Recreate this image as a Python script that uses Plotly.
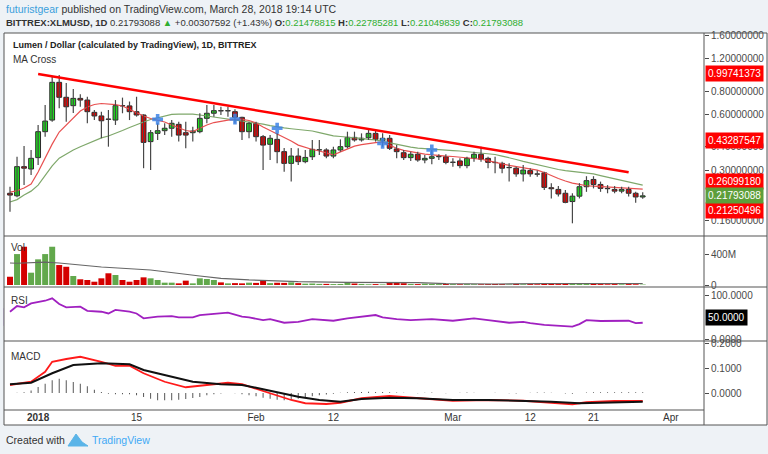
import plotly.graph_objects as go
import pandas as pd
import math

# ---------------- data ----------------
dates = pd.date_range("2017-12-28", periods=91, freq="D")

opens = [0.225,0.218,0.313,0.304,0.350,0.483,0.558,0.891,0.740,0.667,0.730,0.715,0.614,0.587,0.565,0.558,0.667,0.665,0.619,0.594,
         0.427,0.473,0.489,0.504,0.529,0.477,0.477,0.483,0.570,0.607,0.627,0.625,0.619,0.577,0.483,0.536,0.454,0.413,0.439,0.377,
         0.326,0.357,0.333,0.354,0.385,0.385,0.357,0.385,0.401,0.450,0.436,0.448,0.473,0.432,0.445,0.390,0.372,0.350,0.365,0.340,
         0.347,0.354,0.354,0.330,0.336,0.317,0.347,0.365,0.347,0.330,0.326,0.309,0.307,0.286,0.298,0.286,0.290,0.241,0.236,0.225,
         0.203,0.217,0.244,0.267,0.251,0.239,0.236,0.231,0.236,0.225,0.21478815]
highs = [0.244,0.354,0.404,0.385,0.525,0.672,0.955,0.976,0.883,0.820,0.768,0.745,0.632,0.619,0.632,0.715,0.737,0.702,0.745,0.600,
         0.493,0.536,0.536,0.558,0.547,0.547,0.513,0.607,0.672,0.672,0.658,0.658,0.637,0.582,0.547,0.547,0.463,0.463,0.475,0.394,
         0.394,0.393,0.385,0.436,0.436,0.393,0.401,0.439,0.483,0.483,0.473,0.493,0.493,0.473,0.463,0.409,0.385,0.377,0.377,0.362,
         0.385,0.365,0.365,0.347,0.347,0.354,0.377,0.401,0.354,0.354,0.333,0.326,0.313,0.319,0.307,0.298,0.294,0.255,0.246,0.234,
         0.225,0.255,0.278,0.278,0.260,0.249,0.246,0.244,0.244,0.229,0.22785281]
lows = [0.179,0.214,0.249,0.282,0.319,0.454,0.547,0.645,0.547,0.609,0.658,0.536,0.558,0.445,0.401,0.525,0.607,0.558,0.582,0.307,
        0.300,0.436,0.463,0.454,0.427,0.393,0.427,0.473,0.536,0.582,0.594,0.582,0.536,0.436,0.445,0.427,0.300,0.340,0.326,0.294,
        0.260,0.319,0.326,0.340,0.362,0.347,0.347,0.377,0.393,0.427,0.427,0.436,0.427,0.401,0.385,0.347,0.340,0.336,0.333,0.326,
        0.322,0.340,0.322,0.313,0.307,0.307,0.333,0.333,0.307,0.288,0.288,0.260,0.276,0.260,0.276,0.276,0.234,0.211,0.216,0.199,
        0.155,0.211,0.229,0.239,0.229,0.225,0.225,0.225,0.216,0.200,0.21049839]
closes = [0.220,0.313,0.307,0.347,0.483,0.551,0.891,0.740,0.658,0.730,0.715,0.619,0.587,0.553,0.563,0.667,0.665,0.619,0.594,0.423,
          0.477,0.489,0.504,0.536,0.463,0.463,0.487,0.570,0.607,0.627,0.625,0.627,0.577,0.483,0.536,0.454,0.409,0.445,0.377,0.326,
          0.357,0.333,0.351,0.388,0.386,0.357,0.385,0.401,0.450,0.436,0.445,0.473,0.439,0.445,0.393,0.377,0.350,0.365,0.340,0.347,
          0.354,0.355,0.330,0.331,0.317,0.347,0.365,0.343,0.330,0.329,0.307,0.310,0.286,0.300,0.286,0.285,0.242,0.238,0.223,0.201,
          0.217,0.244,0.263,0.251,0.239,0.238,0.231,0.236,0.225,0.2149,0.21793088]

ma_fast = [0.228,0.232,0.240,0.252,0.293,0.348,0.414,0.481,0.525,0.579,0.624,0.656,0.677,0.685,0.681,0.675,0.664,0.636,0.609,0.587,
           0.569,0.558,0.545,0.525,0.509,0.490,0.484,0.504,0.525,0.541,0.551,0.558,0.563,0.562,0.555,0.538,0.512,0.490,0.473,0.452,
           0.430,0.409,0.397,0.387,0.380,0.371,0.362,0.376,0.390,0.404,0.411,0.418,0.422,0.425,0.409,0.393,0.383,0.376,0.371,0.366,
           0.362,0.359,0.357,0.355,0.352,0.350,0.348,0.343,0.337,0.329,0.324,0.318,0.313,0.308,0.304,0.300,0.291,0.280,0.270,0.262,
           0.255,0.251,0.247,0.246,0.245,0.244,0.243,0.242,0.240,0.239,0.237]
ma_slow = [0.202,0.208,0.220,0.231,0.249,0.282,0.316,0.348,0.368,0.385,0.401,0.417,0.433,0.447,0.458,0.472,0.490,0.509,0.528,0.545,
           0.562,0.572,0.587,0.598,0.601,0.603,0.601,0.594,0.587,0.579,0.572,0.566,0.558,0.553,0.548,0.541,0.531,0.521,0.512,0.506,
           0.501,0.497,0.493,0.487,0.477,0.466,0.459,0.455,0.452,0.449,0.445,0.439,0.436,0.428,0.420,0.411,0.404,0.399,0.394,0.391,
           0.388,0.386,0.385,0.382,0.380,0.377,0.374,0.371,0.368,0.364,0.357,0.348,0.342,0.334,0.327,0.319,0.314,0.308,0.302,0.298,
           0.295,0.293,0.289,0.286,0.280,0.275,0.270,0.265,0.260,0.254,0.249]

cross_idx = [21, 32, 38, 53, 60]
cross_val = [0.563, 0.565, 0.504, 0.418, 0.385]

trend_dates = ["2018-01-01", "2018-03-26"]
trend_vals = [0.988, 0.292]

levels_red = [0.99741373, 0.43287547, 0.26099180, 0.21250496]
last_price = 0.21793088

volume_m = [110,412,510,164,342,412,510,266,243,120,76,67,44,89,156,133,67,44,67,102,
            89,67,31,31,22,58,22,89,80,67,35,22,25,22,31,28,60,25,30,28,
            35,25,18,20,15,15,12,14,30,20,14,10,12,8,30,28,24,14,12,18,
            14,12,14,12,10,12,10,10,12,14,12,8,14,10,12,10,14,16,12,18,
            20,16,18,14,12,10,12,10,12,10,6]
vol_ma_idx = [0, 1, 5, 7, 13, 20, 27, 30, 34, 41, 48, 58, 62, 69, 76, 90]
vol_ma_m = [293, 290, 305, 293, 240, 200, 120, 89, 67, 44, 36, 31, 18, 13, 20, 20]

rsi_idx = [0,1,2,3,5,6,7,8,10,11,13,14,15,17,18,19,21,23,24,26,27,29,31,33,34,36,37,39,41,43,46,48,50,52,53,55,57,60,63,66,68,71,73,74,76,78,80,81,82,84,87,88,89,90]
rsi_val = [62,75,72,81,87,92.5,79.5,72,73.5,64,62,58,66,62,58,47,51,52,49,49,54.5,58,60,51,49,43,45,37,39,45,41.5,47,51,54.5,49,45,43,45,41.5,47,43,37,39,36,32,29.5,28,34,43,41,41,41.5,36,37]

sig_idx = [0,3,6,9,13,17,19,23,26,30,33,35,38,41,44,47,50,54,58,63,68,73,77,81,86,90]
sig_val = [0.035,0.041,0.079,0.112,0.119,0.115,0.092,0.065,0.045,0.035,0.032,0.021,0.003,-0.015,-0.028,-0.035,-0.024,-0.019,-0.021,-0.028,-0.028,-0.031,-0.035,-0.041,-0.039,-0.035]
macd_idx = [0,3,5,6,8,10,13,15,17,19,22,25,28,31,33,37,40,42,45,47,50,54,58,63,68,73,77,80,82,86,90]
macd_val = [0.032,0.045,0.085,0.125,0.136,0.145,0.125,0.109,0.109,0.079,0.045,0.023,0.032,0.041,0.035,-0.001,-0.028,-0.041,-0.044,-0.039,-0.021,-0.012,-0.021,-0.031,-0.028,-0.031,-0.039,-0.045,-0.037,-0.032,-0.032]
hist_val = [0.0,0.001,0.003,0.01,0.024,0.037,0.051,0.057,0.051,0.044,0.037,0.027,0.013,0.004,-0.003,-0.005,-0.005,-0.005,-0.009,-0.016,
            -0.023,-0.029,-0.029,-0.029,-0.027,-0.024,-0.02,-0.016,-0.009,-0.005,-0.002,0.0,-0.001,-0.005,-0.009,-0.013,-0.019,-0.023,-0.027,-0.029,
            -0.027,-0.023,-0.019,-0.013,-0.009,-0.006,-0.003,0.001,0.003,0.004,0.004,0.005,0.004,0.004,0.003,0.002,0.001,0.0,-0.001,0.001,
            0.002,0.0,-0.001,0.0,0.001,0.002,0.001,0.0,0.0,0.001,0.0,-0.001,-0.002,0.0,0.001,0.002,0.002,0.001,0.0,-0.002,
            -0.003,0.0,0.002,0.003,0.003,0.003,0.003,0.003,0.003,0.003,0.003]

xtick_dates = ["2018-01-01","2018-01-15","2018-02-01","2018-02-12","2018-03-01","2018-03-12","2018-03-21","2018-04-01"]
xtick_text = ["<b>2018</b>","15","Feb","12","Mar","12","21","Apr"]

# ---------------- layout helpers ----------------
W, H = 768, 454
PL, PR, PT, PB = 4, 704, 33, 410   # plot area in px
DAY_MS = 86400000

def px(xp):
    return (xp - PL) / (PR - PL)

def py(yp):
    return (PB - yp) / (PB - PT)

def d(i):
    return dates[i]

GREEN = "#1fe01f"
RED = "#e60000"
AX = "#4a4a4a"
NUMFONT = "Liberation Sans, Arial, sans-serif"
TXTFONT = "Liberation Sans, Arial, sans-serif"

fig = go.Figure()

# level lines
shapes = []
for lv in levels_red:
    shapes.append(dict(type="line", xref="paper", yref="y", x0=0, x1=1, y0=lv, y1=lv,
                       line=dict(color="rgba(255,80,80,0.25)", width=2), layer="below"))
shapes.append(dict(type="line", xref="paper", yref="y", x0=0, x1=1, y0=last_price, y1=last_price,
                   line=dict(color="#4caf50", width=1, dash="dot"), layer="below"))

fig.add_trace(go.Scatter(x=dates, y=ma_slow, mode="lines", line=dict(color="#7fa86b", width=1.2),
                         hoverinfo="skip", showlegend=False))
fig.add_trace(go.Scatter(x=dates, y=ma_fast, mode="lines", line=dict(color="#e85050", width=1.2),
                         hoverinfo="skip", showlegend=False))

# candle wicks
wx, wy = [], []
for i in range(len(dates)):
    wx += [dates[i], dates[i], None]
    wy += [lows[i], highs[i], None]
fig.add_trace(go.Scatter(x=wx, y=wy, mode="lines", line=dict(color="#484848", width=1.2),
                         hoverinfo="skip", showlegend=False))
# candle bodies
body_base = [min(o, c) for o, c in zip(opens, closes)]
body_len = [abs(c - o) for o, c in zip(opens, closes)]
body_col = [GREEN if c >= o else RED for o, c in zip(opens, closes)]
fig.add_trace(go.Bar(x=dates, y=body_len, base=body_base, width=0.68 * DAY_MS,
                     marker=dict(color=body_col, line=dict(color="#2a2a2a", width=1)),
                     hoverinfo="skip", showlegend=False))

fig.add_trace(go.Scatter(x=[d(i) for i in cross_idx], y=cross_val, mode="markers",
                         marker=dict(symbol="cross", size=9, color="rgba(60,130,230,0.85)"),
                         showlegend=False, hoverinfo="skip"))

fig.add_trace(go.Scatter(x=trend_dates, y=trend_vals, mode="lines", line=dict(color="#ff0000", width=2.5),
                         showlegend=False, hoverinfo="skip"))

# volume
vol_colors = ["#d40000" if c < o else "#62a84c" for o, c in zip(opens, closes)]
fig.add_trace(go.Bar(x=dates, y=[v * 1e6 for v in volume_m], marker=dict(color=vol_colors, line=dict(width=0)),
                     width=0.85 * DAY_MS, yaxis="y2", showlegend=False, hoverinfo="skip"))
fig.add_trace(go.Scatter(x=[d(i) for i in vol_ma_idx], y=[v * 1e6 for v in vol_ma_m], mode="lines",
                         line=dict(color="#666666", width=1.2), yaxis="y2", showlegend=False, hoverinfo="skip"))

# RSI
shapes.append(dict(type="rect", xref="paper", yref="y3", x0=0, x1=1, y0=30, y1=70,
                   fillcolor="rgba(170,110,220,0.15)", line=dict(color="rgba(170,110,220,0.5)", width=1), layer="below"))
shapes.append(dict(type="line", xref="paper", yref="y3", x0=0, x1=1, y0=50, y1=50,
                   line=dict(color="#b0a0c0", width=1, dash="dash"), layer="below"))
fig.add_trace(go.Scatter(x=[d(i) for i in rsi_idx], y=rsi_val, mode="lines",
                         line=dict(color="#a020c0", width=1.8), yaxis="y3", showlegend=False, hoverinfo="skip"))

# MACD
fig.add_trace(go.Bar(x=dates, y=hist_val, marker=dict(color="#555555", line=dict(width=0)),
                     width=0.14 * DAY_MS, base=0, yaxis="y4", showlegend=False, hoverinfo="skip"))
fig.add_trace(go.Scatter(x=[d(i) for i in macd_idx], y=macd_val, mode="lines",
                         line=dict(color="#ff1a1a", width=1.8), yaxis="y4", showlegend=False, hoverinfo="skip"))
fig.add_trace(go.Scatter(x=[d(i) for i in sig_idx], y=sig_val, mode="lines",
                         line=dict(color="#111111", width=2), yaxis="y4", showlegend=False, hoverinfo="skip"))

# frame and separators
frame_col = "#555555"
shapes.append(dict(type="rect", xref="paper", yref="paper", x0=px(4), x1=px(767), y0=py(425), y1=py(33),
                   line=dict(color=frame_col, width=1), fillcolor="rgba(0,0,0,0)", layer="above"))
for ysep in [236, 287, 341, 410]:
    shapes.append(dict(type="line", xref="paper", yref="paper", x0=px(4), x1=px(767) if ysep != 410 else 1,
                       y0=py(ysep), y1=py(ysep), line=dict(color=frame_col, width=1.2), layer="above"))
shapes.append(dict(type="line", xref="paper", yref="paper", x0=1, x1=1, y0=py(425), y1=py(33),
                   line=dict(color=frame_col, width=1), layer="above"))
# white chart background
shapes.append(dict(type="rect", xref="paper", yref="paper", x0=px(4), x1=px(767), y0=py(425), y1=py(33),
                   fillcolor="white", line=dict(width=0), layer="below"))
# TradingView logo (simple mark)
shapes.append(dict(type="path", xref="paper", yref="paper",
                   path="M {a},{b} L {c},{d} L {e},{f} L {g},{h} Z".format(
                       a=px(68), b=py(446), c=px(76), d=py(434), e=px(82), f=py(442), g=px(88), h=py(446)),
                   fillcolor="#5ab4e8", line=dict(color="#5ab4e8", width=1)))

fig.update_layout(shapes=shapes)

tickfont = dict(family=NUMFONT, size=10, color=AX)
log_lo = math.log10(0.1324)
log_hi = math.log10(1.643)
main_ticks = [0.16, 0.3, 0.4, 0.6, 0.8, 1.2, 1.6]

fig.update_layout(
    width=W, height=H,
    margin=dict(l=PL, r=W - PR, t=PT, b=H - PB),
    paper_bgcolor="#eef2f6",
    plot_bgcolor="white",
    barmode="overlay",
    xaxis=dict(domain=[0, 1], anchor="y4", type="date",
               range=["2017-12-27 03:30", "2018-04-05 17:15"],
               tickvals=xtick_dates, ticktext=xtick_text, ticks="", showgrid=False, zeroline=False,
               showline=False, tickfont=dict(family=NUMFONT, size=10, color="#333"),
               rangeslider=dict(visible=False), fixedrange=True),
    yaxis=dict(domain=[py(236), 1], type="log", range=[log_lo, log_hi], side="right", anchor="x",
               tickvals=main_ticks, ticktext=["%.8f" % t for t in main_ticks],
               ticks="outside", ticklen=4, tickcolor=AX, showgrid=False, zeroline=False, tickfont=tickfont),
    yaxis2=dict(domain=[py(287), py(236)], range=[-26.7e6, 653e6], side="right", anchor="x",
                tickvals=[0, 400e6], ticktext=["0", "400M"], ticks="outside", ticklen=4, tickcolor=AX,
                showgrid=False, zeroline=False, tickfont=tickfont),
    yaxis3=dict(domain=[py(341), py(287)], range=[-4.5, 118.2], side="right", anchor="x",
                tickvals=[0, 100], ticktext=["0.0000", "100.0000"], ticks="outside", ticklen=4, tickcolor=AX,
                showgrid=False, zeroline=False, tickfont=tickfont),
    yaxis4=dict(domain=[0, py(341)], range=[-0.068, 0.208], side="right", anchor="x",
                tickvals=[0, 0.1, 0.2], ticktext=["0.0000", "0.1000", "0.2000"], ticks="outside", ticklen=4,
                tickcolor=AX, showgrid=False, zeroline=False, tickfont=tickfont),
    showlegend=False,
)

ann = []
ann.append(dict(xref="paper", yref="paper", x=px(4), y=py(9), xanchor="left", yanchor="middle", showarrow=False,
                text="<span style='color:#3a9fdc'>futuristgear</span> published on TradingView.com, March 28, 2018 19:14 UTC",
                font=dict(family=TXTFONT, size=10.5, color="#333")))
G = "#2fae2f"
ann.append(dict(xref="paper", yref="paper", x=px(4), y=py(23), xanchor="left", yanchor="middle", showarrow=False,
                text=("<b>BITTREX:XLMUSD, 1D</b> 0.21793088 <span style='color:%s'>▲</span> +0.00307592 (+1.43%%) "
                      "<b>O:</b><span style='color:%s'>0.21478815</span> <b>H:</b><span style='color:%s'>0.22785281</span> "
                      "<b>L:</b><span style='color:%s'>0.21049839</span> <b>C:</b><span style='color:%s'>0.21793088</span>")
                % (G, G, G, G, G),
                font=dict(family=TXTFONT, size=9.5, color="#333")))
ann.append(dict(xref="paper", yref="paper", x=px(11), y=py(45), xanchor="left", yanchor="middle", showarrow=False,
                text="<b>Lumen / Dollar (calculated by TradingView), 1D, BITTREX</b>",
                font=dict(family=TXTFONT, size=9, color="#222")))
ann.append(dict(xref="paper", yref="paper", x=px(11), y=py(60), xanchor="left", yanchor="middle", showarrow=False,
                text="MA Cross", font=dict(family=TXTFONT, size=10, color="#333")))
for label, yy in [("Vol", 247), ("RSI", 300), ("MACD", 356)]:
    ann.append(dict(xref="paper", yref="paper", x=px(9), y=py(yy), xanchor="left", yanchor="middle", showarrow=False,
                    text=label, font=dict(family=TXTFONT, size=10, color="#333")))
lbl_font = dict(family=NUMFONT, size=10, color="white")
# label shifts keep the stacked price tags from covering each other
label_shift = {0.21250496: -13}
for lv in levels_red:
    ann.append(dict(xref="paper", yref="y", x=px(705), y=math.log10(lv), xanchor="left", yanchor="middle",
                    showarrow=False, text="%.8f" % lv, bgcolor="#ff0000", borderpad=2, font=lbl_font,
                    yshift=label_shift.get(lv, 0)))
ann.append(dict(xref="paper", yref="y", x=px(705), y=math.log10(last_price), xanchor="left", yanchor="middle",
                showarrow=False, text="%.8f" % last_price, bgcolor="#5d9e3a", borderpad=2, font=lbl_font))
ann.append(dict(xref="paper", yref="y3", x=px(705), y=50, xanchor="left", yanchor="middle",
                showarrow=False, text="50.0000", bgcolor="#000000", borderpad=2, font=lbl_font))
ann.append(dict(xref="paper", yref="paper", x=px(4), y=py(440), xanchor="left", yanchor="middle", showarrow=False,
                text="Created with", font=dict(family=TXTFONT, size=10.5, color="#333")))
ann.append(dict(xref="paper", yref="paper", x=px(90), y=py(440), xanchor="left", yanchor="middle", showarrow=False,
                text="TradingView", font=dict(family=TXTFONT, size=10.5, color="#3fa9f5")))
fig.update_layout(annotations=ann)

fig.write_html("out.html", config={"displayModeBar": False, "staticPlot": True},
               post_script="document.body.style.margin='0';document.body.style.padding='0';")
